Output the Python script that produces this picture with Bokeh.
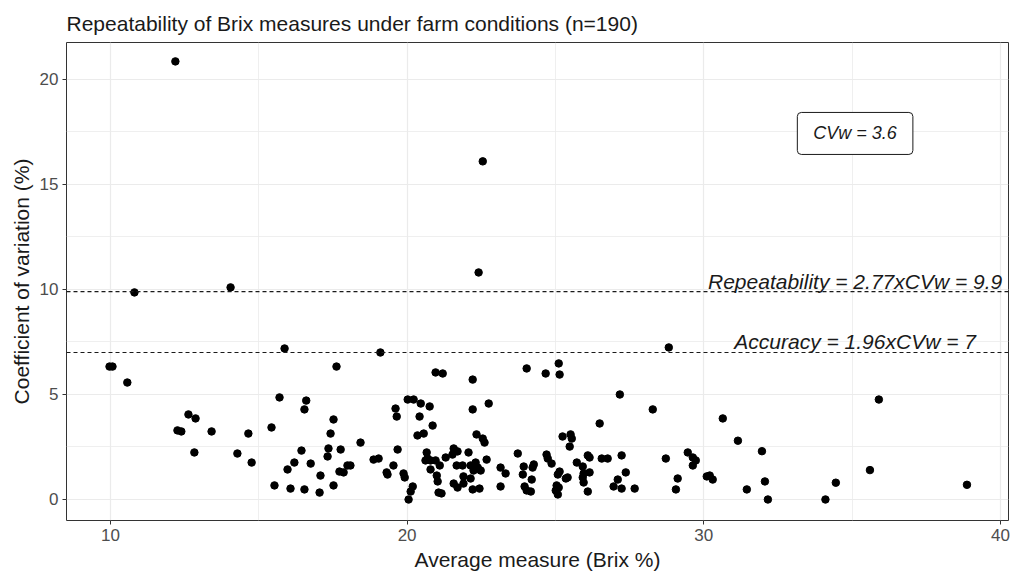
from bokeh.plotting import figure
from bokeh.models import Range1d, FixedTicker, Label, Span, ColumnDataSource
from bokeh.embed import file_html
from bokeh.resources import INLINE

# Average Brix reading of each sample and its within-sample coefficient of variation
avg_brix = [
    12.19, 22.55, 22.41, 10.81, 14.05, 15.87, 19.10, 28.82, 9.97, 10.07,
    10.57, 17.62, 20.96, 21.20, 22.21, 24.03, 24.67, 25.11, 25.14, 27.17,
    28.28, 30.64, 35.90, 12.63, 12.87, 12.26, 12.39, 13.41, 12.83, 14.28,
    14.65, 14.76, 15.43, 15.70, 16.60, 16.54, 16.44, 16.20, 15.97, 16.75,
    15.53, 16.07, 16.54, 17.52, 17.42, 18.43, 17.35, 17.76, 17.32, 17.08,
    17.72, 17.86, 17.99, 18.09, 18.87, 19.04, 19.31, 19.34, 17.05, 17.52,
    20.02, 20.22, 20.46, 20.76, 19.61, 19.65, 20.42, 20.86, 20.35, 20.56,
    22.21, 22.75, 22.34, 22.55, 22.61, 19.68, 19.54, 19.88, 19.92, 20.19,
    20.12, 20.05, 20.66, 20.69, 20.62, 20.79, 20.96, 21.10, 20.79, 21.00,
    21.03, 21.30, 21.57, 21.70, 21.53, 22.07, 21.67, 21.87, 22.14, 22.31,
    22.38, 22.48, 22.24, 21.90, 22.14, 22.68, 21.57, 21.70, 21.90, 22.21,
    22.44, 21.06, 21.16, 23.15, 23.15, 25.24, 25.51, 25.55, 25.48, 26.49,
    23.73, 24.70, 24.74, 24.87, 23.32, 23.93, 23.90, 24.27, 24.23, 24.20,
    23.96, 24.03, 24.17, 25.14, 25.08, 25.41, 25.35, 25.04, 25.11, 25.01,
    25.08, 25.72, 25.92, 25.95, 25.92, 26.15, 25.95, 26.09, 26.09, 26.15,
    26.56, 26.76, 27.23, 27.10, 27.37, 26.96, 27.23, 27.67, 28.72, 29.12,
    29.06, 29.46, 29.63, 29.73, 29.63, 30.10, 30.20, 30.30, 31.15, 31.96,
    31.45, 32.06, 32.16, 34.10, 34.45, 35.60, 38.87,
]
cv_pct = [
    20.86, 16.10, 10.81, 9.86, 10.10, 7.19, 7.00, 7.24, 6.33, 6.33,
    5.57, 6.33, 6.05, 6.00, 5.71, 6.24, 6.00, 6.48, 5.95, 5.00,
    4.29, 3.86, 4.76, 4.05, 3.86, 3.29, 3.24, 3.24, 2.24, 2.19,
    3.14, 1.76, 3.43, 4.86, 4.71, 4.29, 2.33, 1.76, 1.43, 1.71,
    0.67, 0.52, 0.48, 3.81, 3.14, 2.71, 2.43, 2.38, 2.05, 1.14,
    1.33, 1.29, 1.62, 1.62, 1.90, 1.95, 1.29, 1.19, 0.33, 0.67,
    4.76, 4.76, 4.57, 4.43, 4.33, 3.95, 3.95, 3.52, 3.05, 3.14,
    4.29, 4.57, 3.10, 2.90, 2.71, 2.38, 1.62, 1.24, 1.05, 0.62,
    0.38, 0.00, 2.24, 1.95, 1.86, 1.86, 1.86, 1.62, 1.43, 1.14,
    0.86, 2.00, 2.43, 2.29, 2.14, 2.24, 1.62, 1.62, 1.62, 1.76,
    1.52, 1.38, 1.38, 1.10, 1.00, 1.90, 0.76, 0.57, 0.76, 0.48,
    0.52, 0.33, 0.29, 1.52, 0.62, 3.00, 3.10, 2.90, 2.52, 3.62,
    2.19, 2.14, 1.95, 1.71, 1.24, 1.57, 1.19, 1.67, 1.52, 0.95,
    0.62, 0.43, 0.38, 1.33, 1.19, 1.05, 1.00, 0.67, 0.57, 0.43,
    0.24, 1.76, 1.57, 1.24, 1.05, 1.29, 0.81, 0.38, 2.10, 2.00,
    1.95, 1.95, 2.10, 0.95, 1.29, 0.62, 0.52, 0.52, 1.95, 1.00,
    0.48, 2.24, 2.00, 1.86, 1.62, 1.10, 1.14, 0.95, 2.80, 2.30,
    0.48, 0.86, 0.00, 0.00, 0.80, 1.40, 0.70,
]

# Summary statistics
cvw = 3.6
repeatability = 9.9
accuracy = 7.0

x_ticks = [10, 20, 30, 40]
x_minor = [15, 25, 35]
y_ticks = [0, 5, 10, 15, 20]
y_minor = [2.5, 7.5, 12.5, 17.5]

FONT = "Liberation Sans"
GRID = "#EBEBEB"
INK = "#1a1a1a"

p = figure(
    width=1014, height=577,
    output_backend="svg", toolbar_location=None,
    x_range=Range1d(8.52, 40.27), y_range=Range1d(-1.0, 21.76),
    title="Repeatability of Brix measures under farm conditions (n=190)",
    min_border_left=66, min_border_right=6, min_border_top=42, min_border_bottom=57,
)
p.background_fill_color = "white"
p.border_fill_color = "white"
p.outline_line_color = "#333333"
p.outline_line_width = 1

p.title.text_font = FONT
p.title.text_font_size = "21px"
p.title.text_font_style = "normal"
p.title.text_color = INK
p.title.align = "left"
p.title.standoff = 15

p.xaxis.ticker = FixedTicker(ticks=x_ticks, minor_ticks=x_minor)
p.yaxis.ticker = FixedTicker(ticks=y_ticks, minor_ticks=y_minor)
p.xaxis.axis_label = "Average measure (Brix %)"
p.yaxis.axis_label = "Coefficient of variation (%)"

for ax in (p.xaxis, p.yaxis):
    ax.axis_line_color = None
    ax.major_tick_line_color = "#333333"
    ax.major_tick_in = 0
    ax.major_tick_out = 4
    ax.minor_tick_line_color = None
    ax.major_label_text_font = FONT
    ax.major_label_text_font_size = "17px"
    ax.major_label_text_color = "#4D4D4D"
    ax.axis_label_text_font = FONT
    ax.axis_label_text_font_size = "21px"
    ax.axis_label_text_font_style = "normal"
    ax.axis_label_text_color = INK
    ax.major_label_standoff = 4
    ax.axis_label_standoff = 4

p.xgrid.grid_line_color = GRID
p.ygrid.grid_line_color = GRID
p.xgrid.minor_grid_line_color = GRID
p.ygrid.minor_grid_line_color = GRID
p.xgrid.grid_line_width = 1.2
p.ygrid.grid_line_width = 1.2
p.xgrid.minor_grid_line_width = 0.8
p.ygrid.minor_grid_line_width = 0.8

src = ColumnDataSource(dict(x=avg_brix, y=cv_pct))
p.scatter("x", "y", source=src, size=7.5, color="black", line_color="black")

# Reference lines for repeatability and accuracy thresholds
for level in (repeatability, accuracy):
    p.add_layout(Span(location=level, dimension="width", line_color=INK,
                      line_dash="4 3", line_width=1.2))

label_x = 35.1
p.add_layout(Label(
    x=label_x, y=repeatability, y_offset=-1,
    text=f"Repeatability = 2.77xCVw = {repeatability}",
    text_align="center", text_baseline="bottom",
    text_font=FONT, text_font_size="21px", text_font_style="italic",
    text_color=INK,
))
p.add_layout(Label(
    x=label_x, y=accuracy, y_offset=-1,
    text=f"Accuracy = 1.96xCVw = {accuracy:g}",
    text_align="center", text_baseline="bottom",
    text_font=FONT, text_font_size="21px", text_font_style="italic",
    text_color=INK,
))
p.add_layout(Label(
    x=label_x, y=17.43,
    text=f"CVw = {cvw}",
    text_align="center", text_baseline="middle",
    text_font=FONT, text_font_size="18px", text_font_style="italic",
    text_color=INK,
    background_fill_color="white",
    border_line_color=INK, border_line_width=1,
    padding=(16, 11), border_radius=4,
))

open("out.html", "w").write(file_html(p, INLINE))
